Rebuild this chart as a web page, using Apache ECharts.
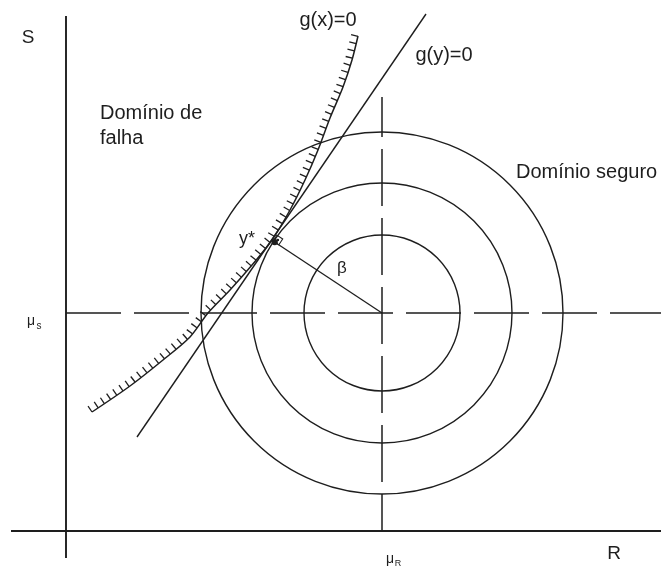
<!DOCTYPE html>
<html lang="pt">
<head>
    <meta charset="UTF-8">
    <title>Índice de confiabilidade - ponto de projeto</title>
    <script src="https://cdn.jsdelivr.net/npm/echarts@6/dist/echarts.min.js"></script>
    <style>
        html, body { margin: 0; padding: 0; background: #fff; }
        #main { width: 668px; height: 569px; }
    </style>
</head>
<body>
    <div id="main"></div>
    <script>
        // plano R x S, origem no cruzamento dos eixos
        var meanR = 316;
        var meanS = 218;
        var radii = [78, 130, 181];
        var axisR = [[-55, 0], [595, 0]];
        var axisS = [[0, -27], [0, 515]];
        var meanLineS = [[0, meanS], [595, meanS]];
        var meanLineR = [[meanR, 434], [meanR, 0]];
        var tangentLine = [[71, 94], [360, 517]];          // g(y)=0
        var limitCurve = [                                  // g(x)=0
            [26, 119], [64, 145], [97, 171], [124, 194], [142, 218],
            [164, 241], [186, 266], [206, 291], [224, 321], [239, 351],
            [252, 381], [264, 413], [277, 444], [286, 471], [292, 495]
        ];
        var yStar = [207, 290];

        var ink = '#1e1e1e';
        var font = 'Liberation Sans, Arial, sans-serif';

        var myChart = echarts.init(document.getElementById('main'));

        function plainLine(name, data, extra) {
            var s = {
                name: name,
                type: 'line',
                data: data,
                showSymbol: false,
                silent: true,
                lineStyle: { color: ink, width: 1.3 }
            };
            for (var k in extra) s[k] = extra[k];
            return s;
        }

        function renderCircle(params, api) {
            var c = api.coord([api.value(0), api.value(1)]);
            var r = api.size([api.value(2), 0])[0];
            return {
                type: 'circle',
                shape: { cx: c[0], cy: c[1], r: r },
                style: { fill: 'none', stroke: ink, lineWidth: 1.4 }
            };
        }

        // hachuras do lado da falha (esquerda / acima da curva)
        function renderHatch(params, api) {
            var pts = limitCurve.map(function (p) { return api.coord(p); });
            var children = [];
            var step = 7.5, len = 7, carry = 0;
            for (var i = 0; i < pts.length - 1; i++) {
                var a = pts[i], b = pts[i + 1];
                var dx = b[0] - a[0], dy = b[1] - a[1];
                var seg = Math.sqrt(dx * dx + dy * dy);
                var ux = dx / seg, uy = dy / seg;
                var t = carry;
                for (; t < seg; t += step) {
                    var x = a[0] + ux * t, y = a[1] + uy * t;
                    children.push({
                        type: 'line',
                        shape: { x1: x, y1: y, x2: x + uy * len, y2: y - ux * len },
                        style: { stroke: ink, lineWidth: 1.3 }
                    });
                }
                carry = t - seg;
            }
            return { type: 'group', children: children };
        }

        // marca de angulo reto em y*
        function renderStar(params, api) {
            var p = api.coord(yStar);
            var c = api.coord([meanR, meanS]);
            var dx = c[0] - p[0], dy = c[1] - p[1];
            var d = Math.sqrt(dx * dx + dy * dy);
            var ux = dx / d, uy = dy / d;
            var vx = uy, vy = -ux;
            var s = 7;
            return {
                type: 'group',
                children: [{
                    type: 'polygon',
                    shape: { points: [
                        [p[0], p[1]],
                        [p[0] + ux * s, p[1] + uy * s],
                        [p[0] + ux * s + vx * s, p[1] + uy * s + vy * s],
                        [p[0] + vx * s, p[1] + vy * s]
                    ] },
                    style: { fill: 'none', stroke: ink, lineWidth: 1.1 }
                }, {
                    type: 'circle',
                    shape: { cx: p[0] + (ux + vx) * s / 2, cy: p[1] + (uy + vy) * s / 2, r: 1.3 },
                    style: { fill: ink }
                }, {
                    type: 'circle',
                    shape: { cx: p[0] + ux * 2, cy: p[1] + uy * 2, r: 3.2 },
                    style: { fill: ink }
                }]
            };
        }

        function label(text, x, y, size, align) {
            return {
                type: 'text',
                x: x,
                y: y,
                silent: true,
                style: {
                    text: text,
                    font: size + 'px ' + font,
                    fill: ink,
                    align: align || 'center',
                    verticalAlign: 'middle'
                }
            };
        }

        var option = {
            backgroundColor: '#fff',
            animation: false,
            grid: { left: 0, right: 0, top: 0, bottom: 0 },
            xAxis: { type: 'value', min: -66, max: 602, show: false },
            yAxis: { type: 'value', min: -38, max: 531, show: false },
            series: [
                plainLine('eixo R', axisR, { lineStyle: { color: ink, width: 1.9 } }),
                plainLine('eixo S', axisS, { lineStyle: { color: ink, width: 1.9 } }),
                plainLine('media S', meanLineS, { lineStyle: { color: ink, width: 1.5, type: [55, 13] } }),
                plainLine('media R', meanLineR, { lineStyle: { color: ink, width: 1.5, type: [57, 12], dashOffset: 17 } }),
                {
                    name: 'circulos',
                    type: 'custom',
                    silent: true,
                    renderItem: renderCircle,
                    data: radii.map(function (r) { return [meanR, meanS, r]; })
                },
                plainLine('g(y)=0', tangentLine, { lineStyle: { color: ink, width: 1.4 } }),
                plainLine('g(x)=0', limitCurve, { smooth: 0.3, lineStyle: { color: ink, width: 1.5 } }),
                {
                    name: 'hachura',
                    type: 'custom',
                    silent: true,
                    renderItem: renderHatch,
                    data: [[0, 0]]
                },
                plainLine('beta', [[meanR, meanS], yStar], { lineStyle: { color: ink, width: 1.3 } }),
                {
                    name: 'y*',
                    type: 'custom',
                    silent: true,
                    renderItem: renderStar,
                    data: [yStar]
                }
            ],
            graphic: [
                label('S', 28, 38, 19),
                label('g(x)=0', 328, 20, 20),
                label('g(y)=0', 444, 55, 20),
                label('Domínio de', 100, 113, 20, 'left'),
                label('falha', 100, 138, 20, 'left'),
                label('Domínio seguro', 516, 172, 20, 'left'),
                label('y*', 247, 239, 18),
                label('β', 342, 268, 17),
                label('μ', 31, 321, 14),
                label('s', 39, 326, 10),
                label('μ', 390, 559, 14),
                label('R', 398, 564, 9),
                label('R', 614, 554, 19)
            ]
        };

        myChart.setOption(option);
    </script>
</body>
</html>
